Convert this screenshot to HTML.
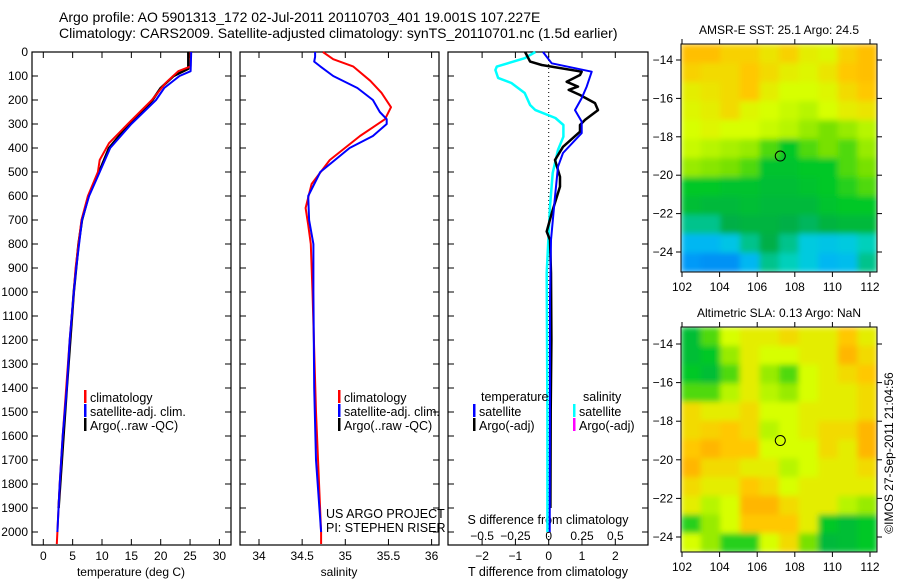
<!DOCTYPE html>
<html><head><meta charset="utf-8"><style>
body{margin:0;background:#fff;}
svg{display:block;font-family:"Liberation Sans",sans-serif;}
</style></head><body>
<svg id="c" width="900" height="580" viewBox="0 0 900 580" xmlns="http://www.w3.org/2000/svg">
<defs>
<filter id="bl" x="0" y="0" width="1" height="1"><feGaussianBlur stdDeviation="3" edgeMode="duplicate"/></filter>
<clipPath id="cp1"><rect x="681" y="44" width="196" height="228"/></clipPath>
<clipPath id="cp2"><rect x="681" y="327" width="196" height="225"/></clipPath>
</defs>
<text x="59" y="22" font-size="14">Argo profile: AO 5901313_172 02-Jul-2011 20110703_401 19.001S 107.227E</text>
<text x="59" y="38" font-size="14">Climatology: CARS2009. Satellite-adjusted climatology: synTS_20110701.nc (1.5d earlier)</text>
<g id="g"></g>
</svg>
<script>
// ---- Data ----
const depthTicks=[0,100,200,300,400,500,600,700,800,900,1000,1100,1200,1300,1400,1500,1600,1700,1800,1900,2000];
const tempTicks=[0,5,10,15,20,25,30];
const salTicks=[34,34.5,35,35.5,36];
const tdiffTicks=[-2,-1,0,1,2];
const sdiffTicks=[-0.5,-0.25,0,0.25,0.5];
const sdiffLabels=["-0.5","-0.25","0","0.25","0.5"];
const tClimDepth=[0,60,80,130,200,300,380,450,500,600,700,800,900,1000,1200,1400,1600,1800,2000,2050];
const tClimVal=[25.1,25.1,23,20.8,18.5,14.4,11.2,9.6,9.3,7.6,6.5,6.0,5.5,5.2,4.5,3.9,3.3,2.8,2.4,2.3];
const tSatDepth=[0,80,100,150,200,300,400,500,600,700,800,900,1000,1200,1400,1600,1800,2000];
const tSatVal=[25.2,25.1,23.2,20.6,19.2,15.0,11.4,9.6,7.8,6.6,6.1,5.6,5.2,4.5,4.0,3.3,2.8,2.4];
const tArgoDepth=[0,70,100,150,200,250,300,400,500,600,700,800,1000,1400,1900];
const tArgoVal=[24.7,24.7,22.2,20.0,18.6,16.8,14.6,11.2,9.5,7.7,6.6,6.0,5.2,4.0,2.6];
const sClimDepth=[0,30,60,120,170,230,280,350,450,550,650,720,800,1000,1500,2000,2050];
const sClimVal=[34.74,34.86,35.09,35.29,35.42,35.53,35.46,35.17,34.82,34.61,34.54,34.57,34.60,34.62,34.66,34.72,34.72];
const sSatDepth=[0,20,40,60,100,150,200,250,280,300,350,400,500,600,700,800,1000,1400,1700,2000];
const sSatVal=[34.65,34.65,34.64,34.71,34.86,35.14,35.32,35.40,35.48,35.48,35.32,35.05,34.71,34.57,34.58,34.63,34.63,34.64,34.66,34.72];
const dtSatDepth=[0,47,82,144,192,242,290,338,421,478,603,783,1033,1500,2000];
const dtSatVal=[-0.17,0.09,1.29,1.14,0.99,0.79,0.99,0.99,0.43,0.28,0.19,0.07,0.04,0.04,0.03];
const dtArgoDepth=[0,40,54,82,96,124,144,158,179,213,242,283,304,332,395,450,520,561,672,748,783,921,1200,1500,1900];
const dtArgoVal=[-0.71,-0.56,-0.21,0.99,0.94,0.54,0.88,0.6,0.94,1.39,1.48,1.09,0.94,0.94,0.43,0.19,0.34,0.34,0.09,-0.06,0.04,0.07,0.08,0.06,0.05];
const dsSatDepth=[0,26,61,75,108,129,171,221,242,275,304,353,408,504,644,921,1500,2000];
const dsSatVal=[-0.1,-0.18,-0.39,-0.40,-0.38,-0.28,-0.18,-0.14,-0.1,0.05,0.11,0.11,0.07,0.03,0.01,-0.015,-0.01,-0.01];
const lonTicks=[102,104,106,108,110,112];
const latTicks=[-14,-16,-18,-20,-22,-24];
const sstGrid=[
[0.77,0.77,0.75,0.75,0.73,0.75,0.72,0.71,0.75,0.77],
[0.75,0.74,0.74,0.76,0.74,0.72,0.71,0.73,0.76,0.77],
[0.72,0.73,0.74,0.76,0.72,0.70,0.70,0.71,0.74,0.76],
[0.71,0.72,0.74,0.71,0.70,0.69,0.68,0.70,0.72,0.73],
[0.70,0.71,0.70,0.70,0.69,0.68,0.66,0.64,0.66,0.68],
[0.69,0.68,0.67,0.66,0.62,0.58,0.62,0.64,0.62,0.66],
[0.66,0.65,0.64,0.62,0.57,0.57,0.58,0.58,0.62,0.64],
[0.58,0.58,0.57,0.57,0.56,0.56,0.57,0.58,0.60,0.62],
[0.56,0.55,0.55,0.56,0.55,0.55,0.55,0.57,0.58,0.58],
[0.50,0.50,0.53,0.54,0.54,0.53,0.52,0.54,0.55,0.55],
[0.42,0.42,0.44,0.50,0.53,0.50,0.45,0.44,0.45,0.48],
[0.38,0.37,0.37,0.42,0.50,0.48,0.45,0.42,0.43,0.50]];
const slaGrid=[
[0.56,0.62,0.70,0.72,0.72,0.74,0.72,0.72,0.76,0.72],
[0.56,0.58,0.66,0.72,0.70,0.70,0.72,0.72,0.78,0.74],
[0.58,0.56,0.62,0.72,0.66,0.62,0.70,0.72,0.74,0.76],
[0.62,0.62,0.68,0.72,0.68,0.66,0.70,0.72,0.72,0.74],
[0.74,0.72,0.72,0.74,0.70,0.70,0.72,0.72,0.72,0.74],
[0.74,0.75,0.76,0.74,0.68,0.70,0.72,0.74,0.74,0.78],
[0.76,0.78,0.76,0.76,0.70,0.70,0.70,0.74,0.72,0.78],
[0.78,0.74,0.74,0.72,0.72,0.68,0.70,0.72,0.72,0.74],
[0.74,0.72,0.72,0.76,0.74,0.70,0.72,0.72,0.72,0.72],
[0.72,0.68,0.70,0.78,0.78,0.74,0.72,0.72,0.68,0.66],
[0.60,0.66,0.70,0.76,0.76,0.76,0.72,0.58,0.56,0.58],
[0.70,0.66,0.60,0.60,0.70,0.74,0.64,0.55,0.56,0.58]];
const floatLon=107.227, floatLat=-19.001;

// ---- Drawing ----
const NS="http://www.w3.org/2000/svg";
const G=document.getElementById('g');
function mk(t,a,p){const e=document.createElementNS(NS,t);for(const k in a)e.setAttribute(k,a[k]);(p||G).appendChild(e);return e;}
const top0=52, bot=545;
const yD=d=>top0+d*0.24;
const xT=v=>43.3+v*5.87;
const xS=v=>259+(v-34)*86.3;
const xDT=v=>548.7+v*33.3;
const xDS=v=>548.7+v*133.2;

function panel(x0,x1,name){
  const r=mk('rect',{x:x0,y:top0,width:x1-x0,height:bot-top0,fill:'none',stroke:'#000','stroke-width':1.2});
  
  
  depthTicks.forEach(d=>{
    const y=yD(d);
    const a=mk('line',{x1:x0,x2:x0+6,y1:y,y2:y,stroke:'#000'});
    
    
    const b=mk('line',{x1:x1-6,x2:x1,y1:y,y2:y,stroke:'#000'});
    
    
  });
}
function xticks(vals,labels,fx,ly,name,tick){
  vals.forEach((v,i)=>{
    const x=fx(v);
    if(tick){
      const a=mk('line',{x1:x,x2:x,y1:bot,y2:bot-6,stroke:'#000'});
      
      
      const b=mk('line',{x1:x,x2:x,y1:top0,y2:top0+6,stroke:'#000'});
      
      
    }
    const t=mk('text',{x:x,y:ly,'font-size':12,'text-anchor':'middle'});
    t.textContent=labels?labels[i]:String(v).replace('-','\u2212');
    
    
  });
}
function line(ds,vs,fx,color,w,name){
  const pts=ds.map((d,i)=>fx(vs[i]).toFixed(1)+','+yD(d).toFixed(1)).join(' ');
  const p=mk('polyline',{points:pts,fill:'none',stroke:color,'stroke-width':w,'stroke-linejoin':'round'});
  
  
}
function txt(x,y,s,name,anchor,size){
  const t=mk('text',{x:x,y:y,'font-size':size||12,'text-anchor':anchor||'start'});
  t.textContent=s;
  
  
  return t;
}
function legend(x,y,color,label,name){
  const r=mk('rect',{x:x,y:y-12,width:2.5,height:13,fill:color});
  
  
  txt(x+6,y,label,name,'start',12.5);
}

// Panel 1 temperature
panel(32,231,'temperature-panel');
depthTicks.forEach(d=>{txt(28,yD(d)+4,String(d),'depth-label','end');});
xticks(tempTicks,null,xT,560,'temperature-axis',true);
txt(131,576,'temperature (deg C)','temperature-axis-title','middle');
line(tArgoDepth,tArgoVal,xT,'#000',2.5,'temp-argo-line');
line(tClimDepth,tClimVal,xT,'#f00',2,'temp-climatology-line');
line(tSatDepth,tSatVal,xT,'#00f',2,'temp-satellite-line');
legend(84,402,'#f00','climatology','legend-climatology');
legend(84,416,'#00f','satellite-adj. clim.','legend-satellite');
legend(84,430,'#000','Argo(..raw -QC)','legend-argo');

// Panel 2 salinity
panel(240,439,'salinity-panel');
xticks(salTicks,null,xS,560,'salinity-axis',true);
txt(339,576,'salinity','salinity-axis-title','middle');
line(sClimDepth,sClimVal,xS,'#f00',2,'sal-climatology-line');
line(sSatDepth,sSatVal,xS,'#00f',2,'sal-satellite-line');
legend(338,402,'#f00','climatology','legend-climatology-2');
legend(338,416,'#00f','satellite-adj. clim.','legend-satellite-2');
legend(338,430,'#000','Argo(..raw -QC)','legend-argo-2');
txt(326,518,'US ARGO PROJECT','credit-project','start',12.5);
txt(326,532,'PI: STEPHEN RISER','credit-pi','start',12.5);

// Panel 3 differences
panel(448,648,'difference-panel');
const zl=mk('line',{x1:xDT(0),x2:xDT(0),y1:top0,y2:bot,stroke:'#000','stroke-dasharray':'1,3'});


xticks(tdiffTicks,null,xDT,560,'tdiff-axis',true);
xticks(sdiffTicks,sdiffLabels.map(s=>s.replace('-','\u2212')),xDS,540,'sdiff-axis',false);
txt(548,524,'S difference from climatology','sdiff-axis-title','middle',12.5);
txt(548,576,'T difference from climatology','tdiff-axis-title','middle',12.5);
line(dsSatDepth,dsSatVal,xDS,'#0ff',2.5,'sdiff-satellite-line');
line(dtArgoDepth,dtArgoVal,xDT,'#000',2.5,'tdiff-argo-line');
line(dtSatDepth,dtSatVal,xDT,'#00f',2,'tdiff-satellite-line');
txt(481,401,'temperature','legend-title-temperature','start',12.5);
legend(473,416,'#00f','satellite','legend-tdiff-satellite');
legend(473,430,'#000','Argo(-adj)','legend-tdiff-argo');
txt(583,401,'salinity','legend-title-salinity','start',12.5);
legend(573,416,'#0ff','satellite','legend-sdiff-satellite');
legend(573,430,'#f0f','Argo(-adj)','legend-sdiff-argo');

// Maps
const stops=[[0.30,[0,90,220]],[0.40,[0,170,255]],[0.47,[0,215,210]],[0.53,[0,175,70]],[0.58,[0,200,40]],[0.64,[120,225,0]],[0.70,[215,255,0]],[0.76,[255,200,0]],[0.82,[255,145,0]]];
function cmap(v){
  if(v<=stops[0][0])return 'rgb('+stops[0][1]+')';
  for(let i=1;i<stops.length;i++){if(v<=stops[i][0]){const a=stops[i-1],b=stops[i],t=(v-a[0])/(b[0]-a[0]);return 'rgb('+a[1].map((c,k)=>Math.round(c+(b[1][k]-c)*t)).join(',')+')';}}
  return 'rgb('+stops[stops.length-1][1]+')';
}
function map(grid,box,lat14y,lat24y,title,name,clip){
  const [x0,y0,x1,y1]=box;
  const xL=lon=>682+(lon-102)*18.8;
  const yL=lat=>lat14y+(-14-lat)*(lat24y-lat14y)/10;
  const rows=grid.length, cols=grid[0].length;
  const cw=(x1-x0)/cols, ch=(y1-y0)/rows;
  const outer=mk('g',{'clip-path':'url(#'+clip+')'});
  
  
  const cg=mk('g',{filter:'url(#bl)'},outer);
  grid.forEach((row,r)=>row.forEach((v,c)=>{
    const e=mk('rect',{x:(x0+c*cw).toFixed(1),y:(y0+r*ch).toFixed(1),width:(cw+0.6).toFixed(1),height:(ch+0.6).toFixed(1),fill:cmap(v)},cg);
    
    
  }));
  const f=mk('rect',{x:x0,y:y0,width:x1-x0,height:y1-y0,fill:'none',stroke:'#000'});
  
  
  lonTicks.forEach(l=>{
    const x=xL(l);
    const a=mk('line',{x1:x,x2:x,y1:y1,y2:y1+5,stroke:'#000'});
    
    
    const b=mk('line',{x1:x,x2:x,y1:y0,y2:y0-5,stroke:'#000'});
    
    
    txt(x,y1+19,String(l),name+'-lon-label','middle');
  });
  latTicks.forEach(l=>{
    const y=yL(l);
    const a=mk('line',{x1:x0-5,x2:x0,y1:y,y2:y,stroke:'#000'});
    
    
    const b=mk('line',{x1:x1,x2:x1+5,y1:y,y2:y,stroke:'#000'});
    
    
    txt(x0-8,y+4,String(l).replace('-','\u2212'),name+'-lat-label','end');
  });
  const c=mk('circle',{cx:xL(floatLon),cy:yL(floatLat),r:5,fill:'none',stroke:'#000'});
  
  
  txt((x0+x1)/2,y0-10,title,name+'-title','middle');
}
map(sstGrid,[681,44,877,272],60,252,'AMSR-E SST: 25.1 Argo: 24.5','sst-map','cp1');
map(slaGrid,[681,327,877,552],344,537,'Altimetric SLA: 0.13 Argo: NaN','sla-map','cp2');
const ts=txt(0,0,'\u00A9IMOS 27-Sep-2011 21:04:56','timestamp','middle');
ts.setAttribute('transform','translate(893,453) rotate(-90)');
</script>
</body></html>
